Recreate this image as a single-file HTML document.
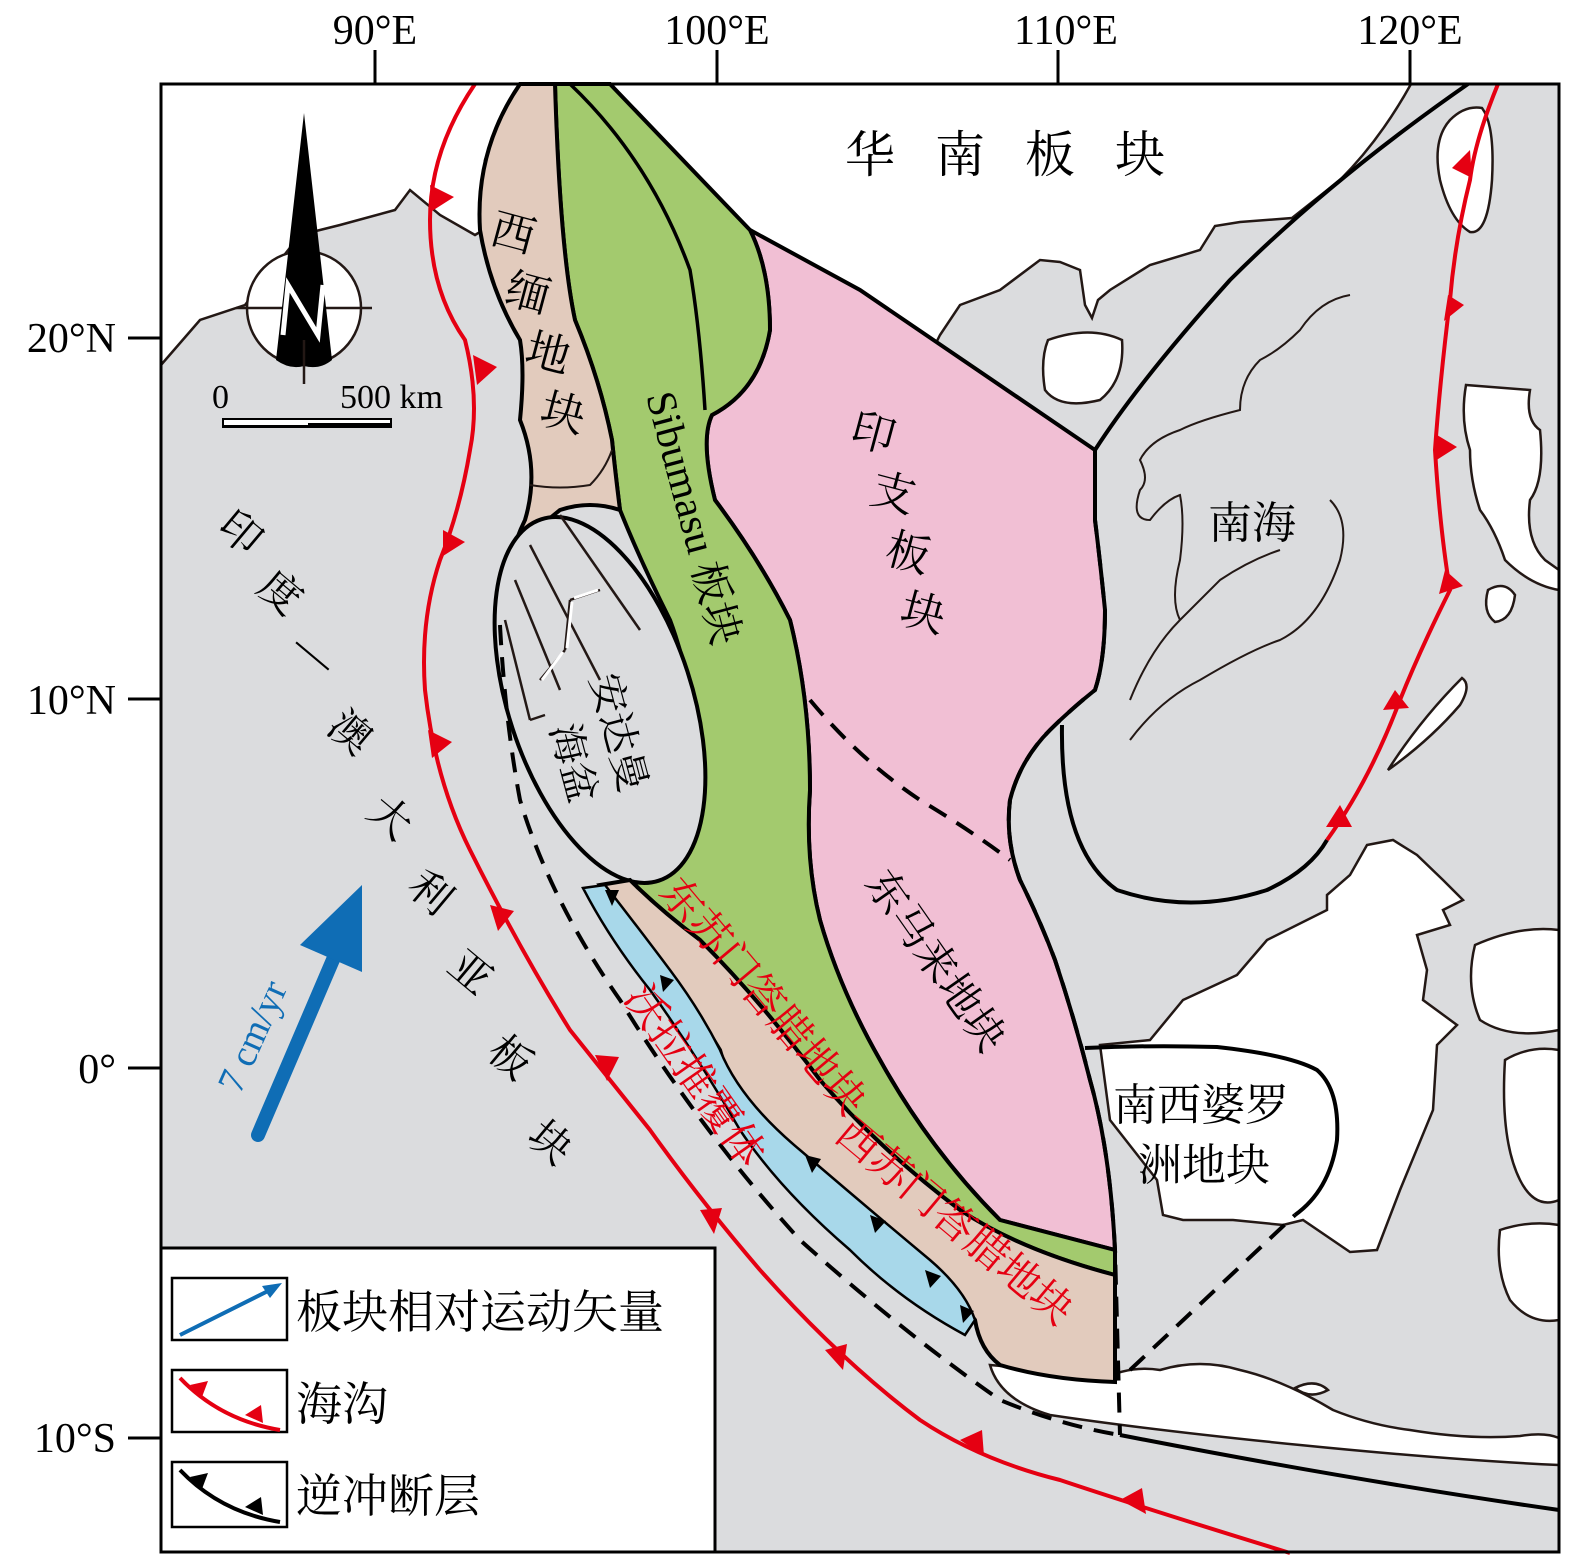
<!DOCTYPE html>
<html><head><meta charset="utf-8"><style>
html,body{margin:0;padding:0;background:#fff}
svg{display:block}
text{font-family:"Liberation Serif","Noto Serif CJK SC",serif}
</style></head><body>
<svg width="1575" height="1563" viewBox="0 0 1575 1563" xmlns="http://www.w3.org/2000/svg">
<g font-size="42" fill="#000" text-anchor="middle">
<text x="375" y="44">90°E</text><text x="717" y="44">100°E</text><text x="1066" y="44">110°E</text><text x="1410" y="44">120°E</text>
</g>
<g font-size="42" fill="#000" text-anchor="end">
<text x="116" y="352">20°N</text><text x="116" y="714">10°N</text><text x="116" y="1083">0°</text><text x="116" y="1452">10°S</text>
</g>
<g stroke="#000" stroke-width="3">
<line x1="375" y1="50" x2="375" y2="83"/><line x1="717" y1="50" x2="717" y2="83"/><line x1="1058" y1="50" x2="1058" y2="83"/><line x1="1410" y1="50" x2="1410" y2="83"/>
<line x1="128" y1="338" x2="160" y2="338"/><line x1="128" y1="699" x2="160" y2="699"/><line x1="128" y1="1068" x2="160" y2="1068"/><line x1="128" y1="1438" x2="160" y2="1438"/>
</g>
<rect x="161" y="84" width="1398" height="1468" fill="#dbdcde"/>
<path d="M161,84 L1411,84 Q1380,140 1340,180 L1292,218 L1240,222 L1215,226 L1200,250 L1150,265 L1110,290 L1098,300 L1092,318 L1085,305 L1080,270 L1060,262 L1040,260 L1000,290 L960,305 L940,335 L935,345 L860,290 L750,230 L600,84 L540,84 L505,110 L485,160 L480,232 L475,235 L440,215 L410,190 L395,210 L340,225 L300,235 L245,305 L200,320 L161,365 Z" fill="#fff" stroke="#231815" stroke-width="2.5"/>
<g fill="#fff" stroke="#231815" stroke-width="2.5">
<path d="M1048,340 Q1090,325 1122,340 Q1125,380 1100,400 Q1060,410 1045,390 Q1040,360 1048,340Z"/>
<path d="M1482,108 Q1495,125 1492,180 Q1488,235 1470,232 Q1450,220 1440,180 Q1432,140 1450,120 Q1465,105 1482,108Z"/>
<path d="M1466,385 L1530,390 Q1525,420 1540,430 Q1545,480 1530,500 Q1525,540 1545,560 L1559,570 L1559,590 Q1530,585 1505,560 Q1495,530 1480,510 Q1470,480 1470,450 Q1460,420 1466,385Z"/>
<path d="M1488,590 Q1505,580 1515,595 Q1512,620 1495,622 Q1482,612 1488,590Z"/>
<path d="M1388,770 Q1420,720 1462,678 Q1472,685 1460,705 Q1430,740 1388,770Z"/>
<path d="M1367,845 L1393,840 L1417,855 L1443,880 L1463,900 L1443,910 L1450,925 L1417,935 L1427,970 L1423,1000 L1457,1025 L1437,1045 L1433,1110 L1400,1190 L1377,1250 L1350,1252 L1303,1220 L1283,1225 L1233,1220 L1183,1220 L1163,1215 L1157,1180 L1110,1120 L1100,1045 L1150,1040 L1183,1000 L1237,975 L1267,940 L1327,910 L1327,895 L1350,875 Z"/>
<path d="M1475,945 Q1520,925 1559,930 L1559,1030 Q1510,1040 1480,1020 Q1465,985 1475,945Z"/>
<path d="M1505,1060 Q1530,1045 1559,1050 L1559,1200 Q1535,1210 1520,1180 Q1500,1140 1505,1060Z"/>
<path d="M1500,1230 Q1530,1220 1559,1225 L1559,1320 Q1530,1325 1510,1300 Q1495,1270 1500,1230Z"/>
<path d="M990,1365 Q1050,1370 1100,1380 Q1130,1365 1160,1370 Q1200,1358 1240,1370 Q1283,1380 1333,1410 Q1370,1425 1410,1430 Q1470,1440 1520,1436 Q1545,1432 1559,1438 L1559,1465 Q1450,1460 1300,1445 Q1150,1430 1050,1415 Q1000,1400 990,1365Z"/>
<path d="M1295,1388 Q1315,1378 1328,1390 Q1310,1400 1295,1388Z"/>
</g>
<g fill="none" stroke="#231815" stroke-width="2">
<path d="M1130,740 Q1160,700 1200,680 Q1250,650 1280,640 Q1320,620 1340,560 Q1350,520 1330,500 M1280,550 Q1250,560 1220,580 Q1200,600 1180,620 Q1150,650 1130,700"/>
<path d="M1350,295 Q1320,300 1300,330 Q1280,350 1260,360 Q1240,380 1240,410 Q1200,420 1180,430 Q1150,440 1140,460 Q1150,480 1140,490 Q1130,520 1150,520 Q1165,500 1180,495 Q1185,520 1180,560 Q1170,600 1180,620"/>
<path d="M935,345 Q950,400 1000,440 Q1050,470 1060,520 Q1080,570 1080,640 Q1050,700 990,720 Q950,740 930,770"/>
<path d="M760,590 Q800,610 820,640 Q860,640 870,690 Q900,710 920,730 Q950,760 970,780"/>
<path d="M750,770 Q760,790 780,800 Q770,830 790,860 Q790,880 810,900 Q830,950 860,990 Q880,1010 900,1040 Q930,1060 960,1080 Q990,1100 1000,1150 Q1020,1190 1010,1230"/>
<path d="M540,490 Q570,480 600,490 M660,560 Q690,560 710,600"/>
</g>
<path d="M750,230 L860,290 L1095,450 L1095,520 Q1100,560 1105,610 Q1105,660 1095,690 Q1070,710 1050,730 Q1020,760 1010,800 Q1005,840 1020,880 Q1040,920 1055,960 Q1075,1020 1090,1080 Q1110,1150 1115,1250 L1000,1220 Q930,1150 880,1060 Q840,990 820,920 Q805,860 810,790 Q810,700 790,620 Q760,560 715,500 Q700,440 712,415 Q760,390 770,330 Q770,270 750,230Z" fill="#f1bfd4" stroke="#000" stroke-width="4"/>
<path d="M555,84 L610,84 L750,230 Q770,270 770,330 Q760,390 712,415 Q700,440 715,500 Q760,560 790,620 Q810,700 810,790 Q805,860 820,920 Q840,990 880,1060 Q930,1150 1000,1220 L1115,1250 L1115,1275 Q1020,1250 960,1210 Q880,1150 820,1080 Q760,1000 700,940 Q660,910 630,880 Q670,850 690,780 Q700,700 670,620 Q640,560 620,510 Q615,470 612,440 Q600,380 575,320 Q560,250 555,84Z" fill="#a3ca6e" stroke="#000" stroke-width="4"/>
<path d="M570,84 Q650,160 690,270 Q700,330 705,410" fill="none" stroke="#000" stroke-width="3.5"/>
<path d="M520,84 L555,84 Q560,250 575,320 Q600,380 612,440 Q615,470 620,510 Q590,500 560,510 Q520,540 505,600 Q500,630 500,625 Q505,560 525,520 Q540,470 520,420 Q525,370 520,340 Q490,290 480,230 Q475,150 520,84Z" fill="#e2cbbd" stroke="#000" stroke-width="4"/>
<path d="M530,485 Q560,490 590,485 Q605,470 612,450" fill="none" stroke="#231815" stroke-width="2"/>
<g transform="rotate(-18 600 700)">
<ellipse cx="600" cy="700" rx="92" ry="190" fill="#dbdcde" stroke="#000" stroke-width="4"/>
</g>
<g stroke="#231815" stroke-width="2.5" fill="none">
<line x1="560" y1="515" x2="640" y2="630"/><line x1="530" y1="545" x2="600" y2="680"/><line x1="515" y1="580" x2="560" y2="690"/><line x1="505" y1="620" x2="530" y2="720"/>
<path d="M570,600 L600,590 M565,650 L570,600 M540,680 L565,650 M530,720 L545,715"/>
</g>
<g stroke="#fff" stroke-width="3" fill="none">
<path d="M574,598 L598,590 M567,648 L572,602 M542,680 L563,652"/>
</g>
<path d="M600,885 L630,880 Q660,910 700,940 Q760,1000 820,1080 Q880,1150 960,1210 Q1020,1250 1115,1275 L1115,1382 Q1050,1380 1000,1365 Q980,1350 975,1320 Q960,1300 900,1250 Q830,1190 780,1140 Q730,1090 720,1050 Q690,1000 660,960 Q630,920 600,885Z" fill="#e2cbbd" stroke="#000" stroke-width="4"/>
<path d="M583,888 L605,885 Q640,930 670,970 Q700,1010 720,1050 Q740,1100 800,1150 Q870,1210 930,1260 Q965,1290 975,1320 L965,1335 Q900,1300 850,1250 Q780,1190 740,1130 Q700,1060 650,990 Q610,940 583,888Z" fill="#a8d8ea" stroke="#000" stroke-width="2.5"/>
<g fill="#000"><path d="M605,890 l14,0 l-7,16z"/><path d="M660,975 l14,5 l-11,12z"/><path d="M805,1155 l16,4 l-9,14z"/><path d="M870,1215 l16,6 l-11,12z"/><path d="M925,1270 l16,6 l-11,12z"/><path d="M960,1305 l14,6 l-11,12z"/></g>
<g fill="none" stroke="#000" stroke-width="4">
<path d="M1095,450 Q1140,380 1230,280 Q1330,180 1468,84"/>
<path d="M1062,725 Q1060,850 1117,890 Q1190,915 1267,890 Q1310,870 1327,840"/>
<path d="M1120,1435 Q1350,1480 1559,1510"/>
<path d="M1085,1048 Q1150,1045 1217,1047 Q1290,1055 1317,1070 Q1340,1090 1337,1140 Q1330,1190 1295,1215"/>
</g>
<g fill="none" stroke="#000" stroke-width="4" stroke-dasharray="20,12">
<path d="M1095,450 L1095,520 Q1100,560 1105,610 Q1105,660 1095,690 Q1070,710 1050,730 Q1020,760 1010,800 Q1005,840 1020,880 Q1040,920 1055,960 Q1075,1020 1090,1080 Q1110,1150 1115,1250 L1120,1435"/>
<path d="M500,625 Q505,720 520,800 Q550,900 620,1000 Q700,1130 800,1240 Q900,1330 1000,1400 Q1060,1425 1120,1435"/>
<path d="M810,700 Q860,760 920,800 Q970,830 1010,860"/>
<path d="M1130,1370 L1295,1215"/>
</g>
<g fill="none" stroke="#e50012" stroke-width="4">
<path d="M475,84 Q430,150 430,220 Q430,290 465,340 Q480,400 470,450 Q460,510 440,560 Q420,620 425,690 Q435,780 470,850 Q520,950 570,1030 Q610,1080 650,1130 Q700,1200 760,1270 Q840,1360 920,1420 Q980,1460 1060,1480 Q1150,1510 1290,1553"/>
<path d="M1498,84 Q1475,140 1470,180 Q1455,240 1450,300 Q1440,380 1435,450 Q1440,530 1450,590 Q1420,650 1400,700 Q1370,780 1327,840"/>
</g>
<g fill="#e50012">
<path d="M430,185 l24,12 l-22,14z"/><path d="M473,355 l24,12 l-20,18z"/><path d="M443,530 l22,12 l-22,14z"/><path d="M428,730 l24,12 l-20,16z"/><path d="M490,905 l24,6 l-16,20z"/><path d="M595,1055 l24,2 l-12,24z"/><path d="M700,1210 l22,-2 l-8,26z"/><path d="M825,1350 l22,-6 l-4,26z"/><path d="M960,1440 l22,-10 l2,26z"/><path d="M1120,1500 l22,-12 l4,26z"/>
<path d="M1470,150 l-18,18 l20,10z"/><path d="M1448,295 l-4,26 l20,-16z"/><path d="M1437,435 l-2,26 l22,-14z"/><path d="M1445,570 l-6,24 l24,-8z"/><path d="M1395,690 l-12,20 l26,-2z"/><path d="M1340,805 l-14,22 l26,0z"/>
</g>
<g font-size="50" fill="#000"><text x="845" y="172" letter-spacing="40">华南板块</text></g>
<g font-size="44" fill="#000"><text x="1208" y="538">南海</text></g>
<g font-size="44" fill="#000"><text x="1113" y="1120">南西婆罗</text><text x="1138" y="1180">洲地块</text></g>
<g font-size="44" fill="#000">
<text transform="translate(488,242) rotate(15)">西</text><text transform="translate(503,302) rotate(15)">缅</text><text transform="translate(523,362) rotate(15)">地</text><text transform="translate(538,422) rotate(15)">块</text>
<text transform="translate(848,442) rotate(15)">印</text><text transform="translate(868,502) rotate(15)">支</text><text transform="translate(883,562) rotate(15)">板</text><text transform="translate(898,622) rotate(15)">块</text>
</g>
<text transform="translate(646,396) rotate(75)" font-size="42">Sibumasu 板块</text>
<text transform="translate(590,678) rotate(75)" font-size="40">安达曼</text>
<text transform="translate(550,728) rotate(75)" font-size="40">海盆</text>
<text transform="translate(864,883) rotate(55)" font-size="42">东马来地块</text>
<text transform="translate(658,893) rotate(50)" font-size="42" fill="#e50012">东苏门答腊地块</text>
<text transform="translate(833,1138) rotate(40)" font-size="42" fill="#e50012">西苏门答腊地块</text>
<text transform="translate(623,998) rotate(55)" font-size="42" fill="#e50012">沃拉推覆体</text>
<g font-size="42" fill="#000">
<text transform="translate(215,530) rotate(40)">印</text><text transform="translate(255,590) rotate(40)">度</text><text transform="translate(290,650) rotate(40)">—</text><text transform="translate(325,730) rotate(40)">澳</text><text transform="translate(365,815) rotate(40)">大</text><text transform="translate(405,890) rotate(40)">利</text><text transform="translate(445,970) rotate(40)">亚</text><text transform="translate(485,1055) rotate(40)">板</text><text transform="translate(525,1140) rotate(40)">块</text>
</g>
<line x1="258" y1="1135" x2="335" y2="955" stroke="#0f6db5" stroke-width="14" stroke-linecap="round"/>
<path d="M362,885 L362,972 L300,945Z" fill="#0f6db5"/>
<text transform="translate(240,1095) rotate(-66)" font-size="38" fill="#0f6db5">7 cm/yr</text>
<circle cx="304" cy="308" r="57" fill="#fff" stroke="#231815" stroke-width="2.5"/>
<line x1="236" y1="308" x2="372" y2="308" stroke="#231815" stroke-width="2.5"/>
<path d="M304,113 L332,360 Q320,370 304,366 Q290,370 276,360Z" fill="#000"/>
<line x1="304" y1="340" x2="304" y2="384" stroke="#231815" stroke-width="2.5"/>
<path d="M283,335 L288,285 L318,335 L323,285" fill="none" stroke="#fff" stroke-width="5"/>
<text x="212" y="408" font-size="34">0</text><text x="340" y="408" font-size="34">500 km</text>
<rect x="222" y="418" width="170" height="10" fill="#000"/>
<rect x="224" y="420" width="84" height="5" fill="#fff"/><rect x="308" y="420" width="82" height="3" fill="#fff"/>
<rect x="161" y="1248" width="554" height="304" fill="#fff" stroke="#000" stroke-width="3"/>
<rect x="172" y="1278" width="115" height="62" fill="#fff" stroke="#000" stroke-width="2.5"/>
<line x1="180" y1="1335" x2="270" y2="1290" stroke="#0f6db5" stroke-width="4"/>
<path d="M282,1283 L262,1286 L270,1298Z" fill="#0f6db5"/>
<rect x="172" y="1370" width="115" height="62" fill="#fff" stroke="#000" stroke-width="2.5"/>
<path d="M180,1378 Q220,1420 280,1430" fill="none" stroke="#e50012" stroke-width="4"/>
<path d="M190,1385 l18,-4 l-6,16z M245,1415 l16,-10 l2,18z" fill="#e50012"/>
<rect x="172" y="1462" width="115" height="65" fill="#fff" stroke="#000" stroke-width="2.5"/>
<path d="M180,1470 Q220,1512 280,1522" fill="none" stroke="#000" stroke-width="4"/>
<path d="M190,1477 l18,-4 l-6,16z M245,1507 l16,-10 l2,18z" fill="#000"/>
<g font-size="46" fill="#000"><text x="296" y="1328">板块相对运动矢量</text><text x="296" y="1420">海沟</text><text x="296" y="1512">逆冲断层</text></g>
<rect x="161" y="84" width="1398" height="1468" fill="none" stroke="#000" stroke-width="3"/>
</svg>
</body></html>
